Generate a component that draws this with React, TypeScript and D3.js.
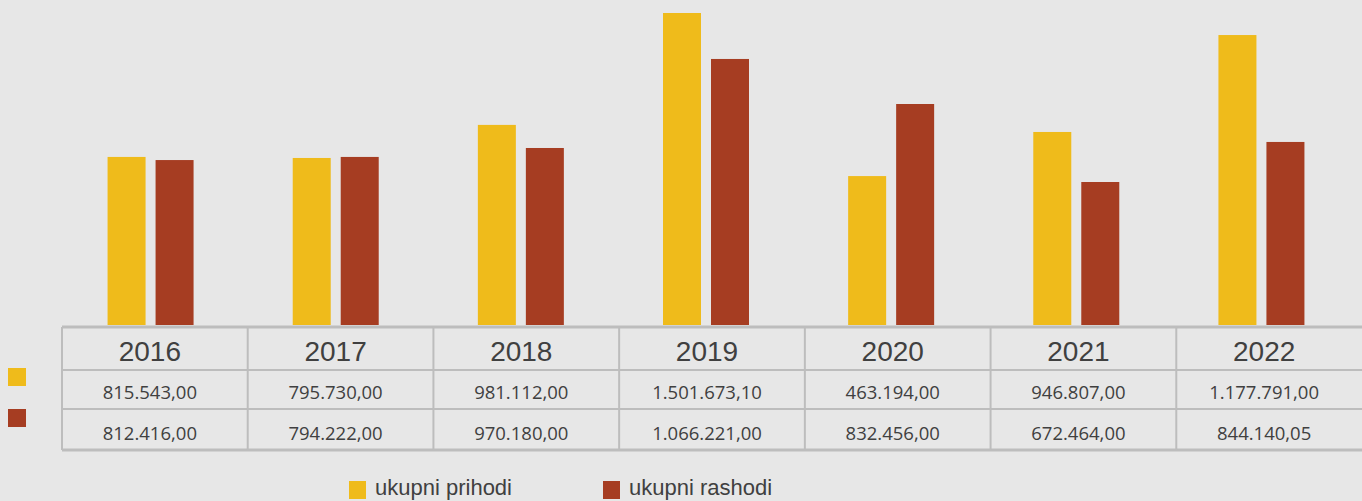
import React from "react";
import * as d3 from "d3";

const years = ["2016", "2017", "2018", "2019", "2020", "2021", "2022"];
// bar heights as drawn (millions)
const barPrihodi = [0.808, 0.803, 0.962, 1.5, 0.716, 0.928, 1.394];
const barRashodi = [0.793, 0.808, 0.851, 1.279, 1.0625, 0.6875, 0.88];
// table labels
const labelPrihodi = ["815.543,00", "795.730,00", "981.112,00", "1.501.673,10", "463.194,00", "946.807,00", "1.177.791,00"];
const labelRashodi = ["812.416,00", "794.222,00", "970.180,00", "1.066.221,00", "832.456,00", "672.464,00", "844.140,05"];
const seriesNames = ["ukupni prihodi", "ukupni rashodi"];

const W = 1362;
const H = 501;
const YELLOW = "#efbb1b";
const RED = "#a63d22";
const GRID = "#bdbdbd";
const TEXT = "#404040";

export default function App() {
  const x = d3.scaleBand<string>().domain(years).range([62, 1362]);
  const xb = d3.scaleBand<string>().domain(years).range([58, 1354]);
  const y = d3.scaleLinear().domain([0, 1.5]).range([325, 13]);
  const barW = 38;
  const gap = 10;

  const tableTop = 327;
  const rows = [tableTop, 370, 409, 450];

  return (
    <svg width={W} height={H} style={{ position: "absolute", left: 0, top: 0, background: "#e7e7e7" }}>
      <rect x={0} y={0} width={W} height={H} fill="#e7e7e7" />
      {years.map((yr, i) => {
        const c = xb(yr)! + xb.bandwidth() / 2;
        return (
          <g key={yr}>
            <rect x={c - gap / 2 - barW} y={y(barPrihodi[i])} width={barW} height={y(0) - y(barPrihodi[i])} fill={YELLOW} />
            <rect x={c + gap / 2} y={y(barRashodi[i])} width={barW} height={y(0) - y(barRashodi[i])} fill={RED} />
          </g>
        );
      })}

      {/* table grid */}
      <g stroke={GRID} strokeWidth={2}>
        {rows.map((r, i) => (
          <line key={i} x1={62} x2={1362} y1={r} y2={r} strokeWidth={i === 0 || i === 3 ? 3 : 2} />
        ))}
        {years.map((yr) => (
          <line key={yr} x1={x(yr)!} x2={x(yr)!} y1={tableTop} y2={450} />
        ))}
      </g>

      {years.map((yr, i) => {
        const c = x(yr)! + x.bandwidth() / 2;
        return (
          <g key={"t" + yr} fill={TEXT} textAnchor="middle">
            <text x={c - 5} y={361} fontFamily="Liberation Sans, Arial, sans-serif" fontSize={28}>{yr}</text>
            <text x={c - 5} y={399} fontFamily="Open Sans, sans-serif" fontSize={18.5}>{labelPrihodi[i]}</text>
            <text x={c - 5} y={440} fontFamily="Open Sans, sans-serif" fontSize={18.5}>{labelRashodi[i]}</text>
          </g>
        );
      })}

      {/* row markers */}
      <rect x={8} y={368} width={18} height={18} fill={YELLOW} />
      <rect x={8} y={409} width={18} height={18} fill={RED} />

      {/* legend */}
      {seriesNames.map((name, i) => {
        const lx = i === 0 ? 349 : 603;
        return (
          <g key={name}>
            <rect x={lx} y={481} width={17} height={18} fill={i === 0 ? YELLOW : RED} />
            <text x={lx + 26} y={495} fontFamily="Liberation Sans, Arial, sans-serif" fontSize={22} fill={TEXT}>{name}</text>
          </g>
        );
      })}
    </svg>
  );
}
